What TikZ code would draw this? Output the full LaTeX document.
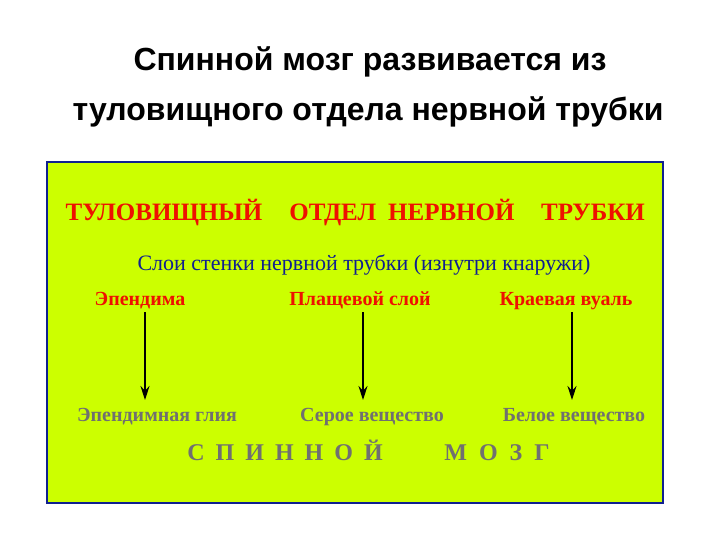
\documentclass[tikz,border=0pt]{standalone}
\usepackage{fontspec}
\usetikzlibrary{arrows.meta}
\setmainfont{Liberation Serif}
\newfontfamily\sansf{Liberation Sans}
\definecolor{bg}{HTML}{CCFF00}
\definecolor{redt}{HTML}{EE1100}
\definecolor{bluet}{HTML}{102090}
\definecolor{grayt}{HTML}{707070}
\begin{document}
\begin{tikzpicture}[x=1pt,y=-1pt,
  title/.style={anchor=base,font=\sansf\bfseries\fontsize{32}{36}\selectfont},
  head/.style={anchor=base,text=redt,font=\bfseries\fontsize{25}{28}\selectfont},
  layer/.style={anchor=base,text=redt,font=\bfseries\fontsize{20}{23}\selectfont},
  result/.style={anchor=base,text=grayt,font=\bfseries\fontsize{20}{23}\selectfont},
  big/.style={anchor=base,text=grayt,font=\bfseries\fontsize{24}{27}\selectfont},
  arr/.style={-{Stealth[length=14pt,width=9pt]},line width=1.2pt}]
\useasboundingbox (0,0) rectangle (720,540);
\node[title] (t1) at (370,71) {Спинной мозг развивается из};
\node[title] (t2) at (368,121) {туловищного отдела нервной трубки};
\path[fill=bg,draw=bluet,line width=1.2pt] (47,162) rectangle (663,503);
\node[head] (h1) at (164,221) {ТУЛОВИЩНЫЙ};
\node[head] (h2) at (402,221) {ОТДЕЛ\hspace{12pt}НЕРВНОЙ};
\node[head] (h3) at (593,221) {ТРУБКИ};
\node[anchor=base,text=bluet,font=\fontsize{22}{25}\selectfont] (s) at (364,270) {Слои стенки нервной трубки (изнутри кнаружи)};
\node[layer] (l1) at (140,305) {Эпендима};
\node[layer] (l2) at (360,305) {Плащевой слой};
\node[layer] (l3) at (566,305) {Краевая вуаль};
\coordinate (a1) at (145,312); \coordinate (b1) at (145,400);
\coordinate (a2) at (363,312); \coordinate (b2) at (363,400);
\coordinate (a3) at (572,312); \coordinate (b3) at (572,400);
\draw[arr] (a1) -- (b1);
\draw[arr] (a2) -- (b2);
\draw[arr] (a3) -- (b3);
\node[result] (r1) at (157,421) {Эпендимная глия};
\node[result] (r2) at (372,421) {Серое вещество};
\node[result] (r3) at (574,421) {Белое вещество};
\node[big] (m1) at (285,460) {С\hspace{11pt}П\hspace{11pt}И\hspace{11pt}Н\hspace{11pt}Н\hspace{11pt}О\hspace{11pt}Й};
\node[big] (m2) at (497,460) {М\hspace{12pt}О\hspace{12pt}З\hspace{12pt}Г};
\end{tikzpicture}
\end{document}
